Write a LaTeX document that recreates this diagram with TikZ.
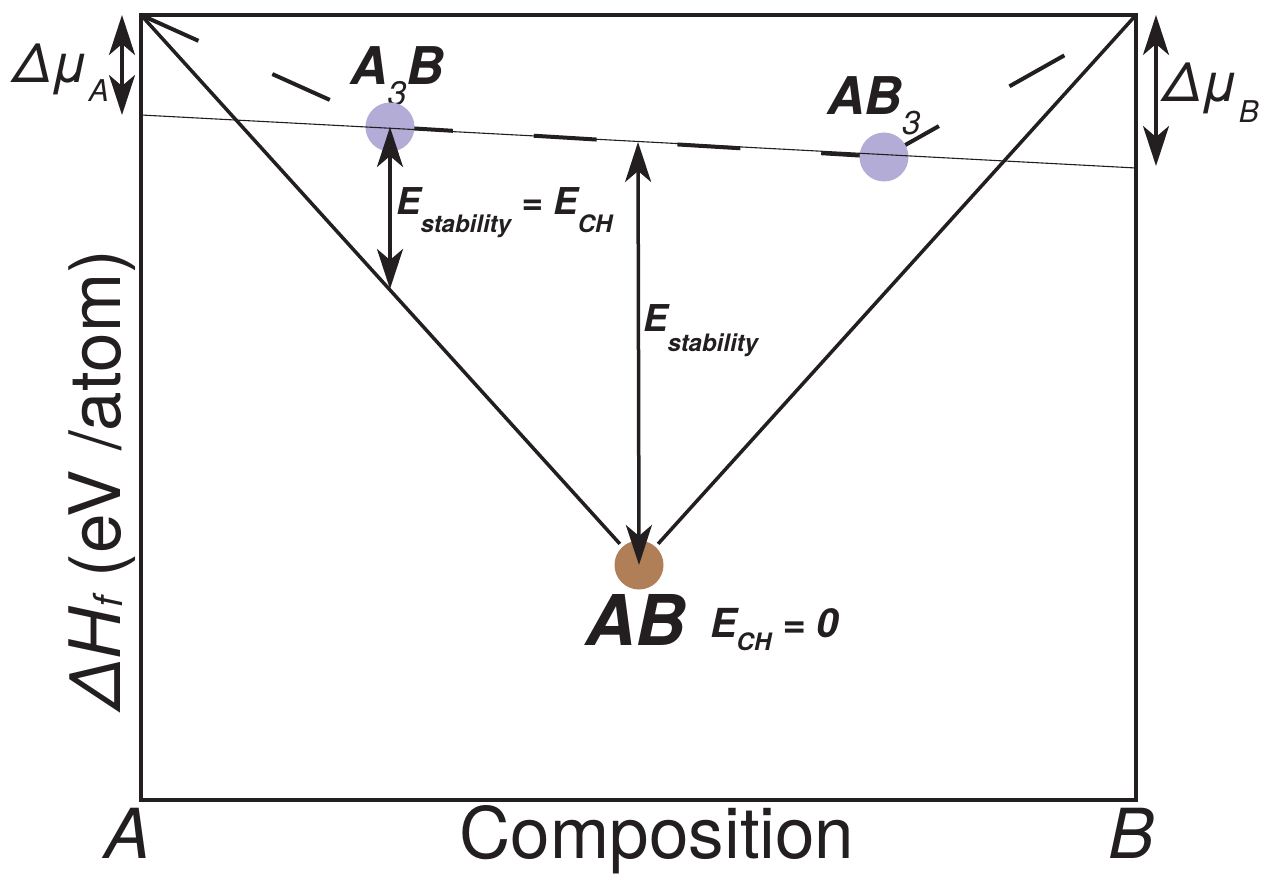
\documentclass[tikz,border=0pt]{standalone}
\usepackage{fontspec}
\setmainfont{TeX Gyre Heros}
\usetikzlibrary{arrows.meta}
\definecolor{lav}{RGB}{179,172,214}
\definecolor{brn}{RGB}{176,127,88}
\definecolor{ink}{RGB}{35,31,32}
\newcommand\fsz[1]{\fontsize{#1}{#1}\selectfont}
\newcommand\lsub[3]{\raisebox{-#1pt}{\fsz{#2}#3}}
\begin{document}
\begin{tikzpicture}[x=1pt,y=-1pt,
  lbl/.style={inner sep=0pt, outer sep=0pt, text=ink},
  frameline/.style={line width=3.5pt, draw=ink},
  hullline/.style={line width=4pt, draw=ink, dash pattern=on 63pt off 81pt},
  thinline/.style={line width=1.1pt, draw=ink},
  tipS/.tip={Stealth[length=40pt,width=26pt,inset=11pt]},
  darr/.style={line width=3.5pt, draw=ink, fill=ink, tipS-tipS},
  dot/.style={circle, inner sep=0pt, outer sep=4pt, minimum size=49pt},
]
\useasboundingbox (0,0) rectangle (1263,874);

% corners and helper coordinates
\coordinate (A) at (141,15);
\coordinate (B) at (1136,15);
\coordinate (Bb) at (1136,800);
\coordinate (LA) at (141,115);
\coordinate (LB) at (1136,168);
\coordinate (hullmid) at (638,142);
\coordinate (onAline) at (390,289);
\coordinate (muAt) at (122,15);
\coordinate (muAb) at (122,115);
\coordinate (muBt) at (1156,15);
\coordinate (muBb) at (1156,166);

% compound labels (partly covered by the circles)
\node[lbl, anchor=base west] (lA3B) at (350,85) {\fsz{52}\bfseries\itshape A\lsub{21}{34}{\mdseries 3}B};
\node[lbl, anchor=base west] (lAB3) at (827,115) {\fsz{52}\bfseries\itshape AB\lsub{20}{33}{\mdseries 3}};

% circles
\node[dot] (A3B) at (390,127) {};
\node[dot] (AB3) at (884,157) {};
\node[dot] (AB) at (639,565) {};

% hull (dashed)
\draw[hullline] (A) -- (A3B.center);
\draw[hullline] (A3B.center) -- (AB3.center);
\draw[hullline] (AB3.center) -- (B);

% circle fills over the dashes
\fill[lav] (A3B.center) circle (24.5pt);
\fill[lav] (AB3.center) circle (24.5pt);
\fill[brn] (AB.center) circle (24.5pt);

% frame and diagonals
\draw[frameline] (A) rectangle (Bb);
\draw[frameline] (A) -- (AB);
\draw[frameline] (B) -- (AB);

% thin reference line
\draw[thinline] (LA) -- (LB);

% arrows
\draw[darr] (A3B.center) -- (onAline);
\draw[darr] (hullmid) -- (AB.center);
\draw[darr] (muAt) -- (muAb);
\draw[darr] (muBt) -- (muBb);

% labels
\node[lbl, anchor=base west] (muA) at (13,83) {\fsz{54}\itshape Δμ\lsub{19}{30}{A}};
\node[lbl, anchor=base west] (muB) at (1163,102) {\fsz{54}\itshape Δμ\lsub{21}{30}{B}};
\node[lbl, anchor=base west] (lAB) at (585,645) {\fsz{70}\bfseries\itshape AB};
\node[lbl, anchor=base west] (lECH) at (710,637) {\fsz{40}\bfseries\itshape E\lsub{13}{24}{CH} = 0};
\node[lbl, anchor=base west] (lEs1) at (396,215) {\fsz{37}\bfseries\itshape E\lsub{18}{24}{stability} = E\lsub{18}{24}{CH}};
\node[lbl, anchor=base west] (lEs2) at (643,332) {\fsz{37}\bfseries\itshape E\lsub{20}{24}{stability}};
\node[lbl, rotate=90, anchor=base] (ylab) at (120,480) {\fsz{71}{\itshape ΔH\lsub{2}{40}{f}} (eV /atom)};
\node[lbl, anchor=base west] (xA) at (104,858) {\fsz{69}\itshape A};
\node[lbl, anchor=base] (xlab) at (657,858) {\fsz{71}Composition};
\node[lbl, anchor=base west] (xB) at (1108,858) {\fsz{69}\itshape B};
\end{tikzpicture}
\end{document}
